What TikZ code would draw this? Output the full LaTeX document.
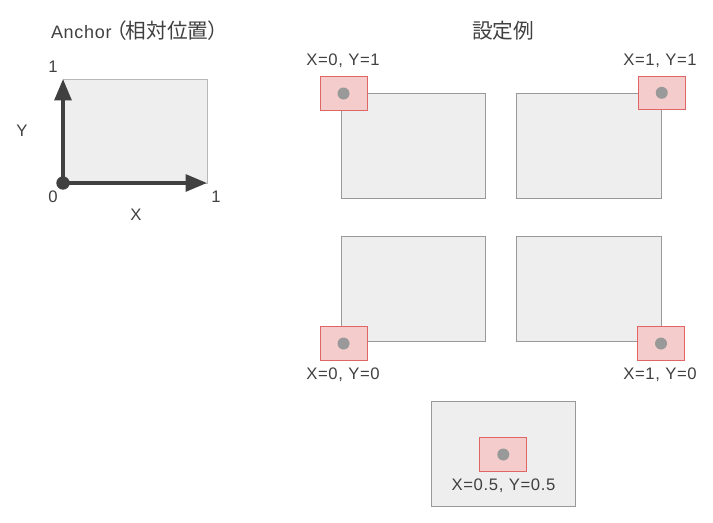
\documentclass[tikz,border=0pt]{standalone}
\usepackage{fontspec}
\setmainfont{Liberation Sans}[LetterSpace=4]
\newfontfamily\jp{Noto Sans CJK JP}[RawFeature=+palt]
\usetikzlibrary{arrows.meta}
\definecolor{txt}{HTML}{404040}
\definecolor{boxfill}{HTML}{EEEEEE}
\definecolor{boxline}{HTML}{999999}
\definecolor{ancfill}{HTML}{F4CCCC}
\definecolor{ancline}{HTML}{E06666}
\definecolor{dotc}{HTML}{999999}
\definecolor{axisc}{HTML}{404040}
\begin{document}
\begin{tikzpicture}[x=0.75pt,y=-0.75pt,
  panel/.style={draw=boxline, fill=boxfill, line width=0.75pt, minimum width=108.4pt, minimum height=78.75pt, inner sep=0pt},
  anc/.style={draw=ancline, fill=ancfill, line width=0.75pt, minimum width=35.25pt, minimum height=25pt, inner sep=0pt},
  dotp/.style={circle, fill=dotc, minimum size=9pt, inner sep=0pt},
  lbl/.style={text=txt, font=\fontsize{12.5pt}{14pt}\selectfont, inner sep=0pt},
  cjk/.style={text=txt, font=\jp\fontsize{15.5pt}{18pt}\selectfont, inner sep=0pt},
  axis/.style={draw=axisc, line width=2.8pt, -{Triangle[length=16pt,width=12.5pt]}}]
\useasboundingbox (0,0) rectangle (713,522);
% left diagram
\node[lbl] (title) at (135,31) {{\fontsize{13.5pt}{16pt}\selectfont Anchor}\hspace{3pt}{\jp\fontsize{15.5pt}{18pt}\selectfont （相対位置）}};
\node[panel, draw=boxline!70, minimum width=108pt, minimum height=78pt] (frame) at (135,131) {};
\coordinate (origin) at (63,183);
\coordinate (ytip) at (63,79);
\coordinate (xtip) at (207,183);
\draw[axis] (origin) -- (ytip);
\draw[axis] (origin) -- (xtip);
\node[circle, fill=axisc, minimum size=10pt, inner sep=0pt] (odot) at (origin) {};
\node[lbl] (ly1) at (53,67) {1};
\node[lbl] (lY) at (22,131) {Y};
\node[lbl] (l0) at (53,197) {0};
\node[lbl] (lx1) at (216,197) {1};
\node[lbl] (lX) at (136,215) {X};
% examples
\node[cjk] (ex) at (503,31) {設定例};
% top-left
\node[panel] (p1) at (413.3,145.8) {};
\node[anc] (a1) at (343.5,93.5) {};
\node[dotp] (d1) at (a1.center) {};
\node[lbl] (t1) at (343,61) {X=0, Y=1};
% top-right
\node[panel] (p2) at (589,145.8) {};
\node[anc] (a2) at (p2.north east) {};
\node[dotp] (d2) at (a2.center) {};
\node[lbl] (t2) at (660,61) {X=1, Y=1};
% bottom-left
\node[panel] (p3) at (413.3,289) {};
\node[anc] (a3) at (343.5,343.5) {};
\node[dotp] (d3) at (a3.center) {};
\node[lbl] (t3) at (343,375) {X=0, Y=0};
% bottom-right
\node[panel] (p4) at (589,289) {};
\node[anc] (a4) at (661,343.5) {};
\node[dotp] (d4) at (a4.center) {};
\node[lbl] (t4) at (660,375) {X=1, Y=0};
% center
\node[panel] (p5) at (503.5,454) {};
\node[anc] (a5) at (503.3,454.5) {};
\node[dotp] (d5) at (a5.center) {};
\node[lbl] (t5) at (503.5,486) {X=0.5, Y=0.5};
\end{tikzpicture}
\end{document}
